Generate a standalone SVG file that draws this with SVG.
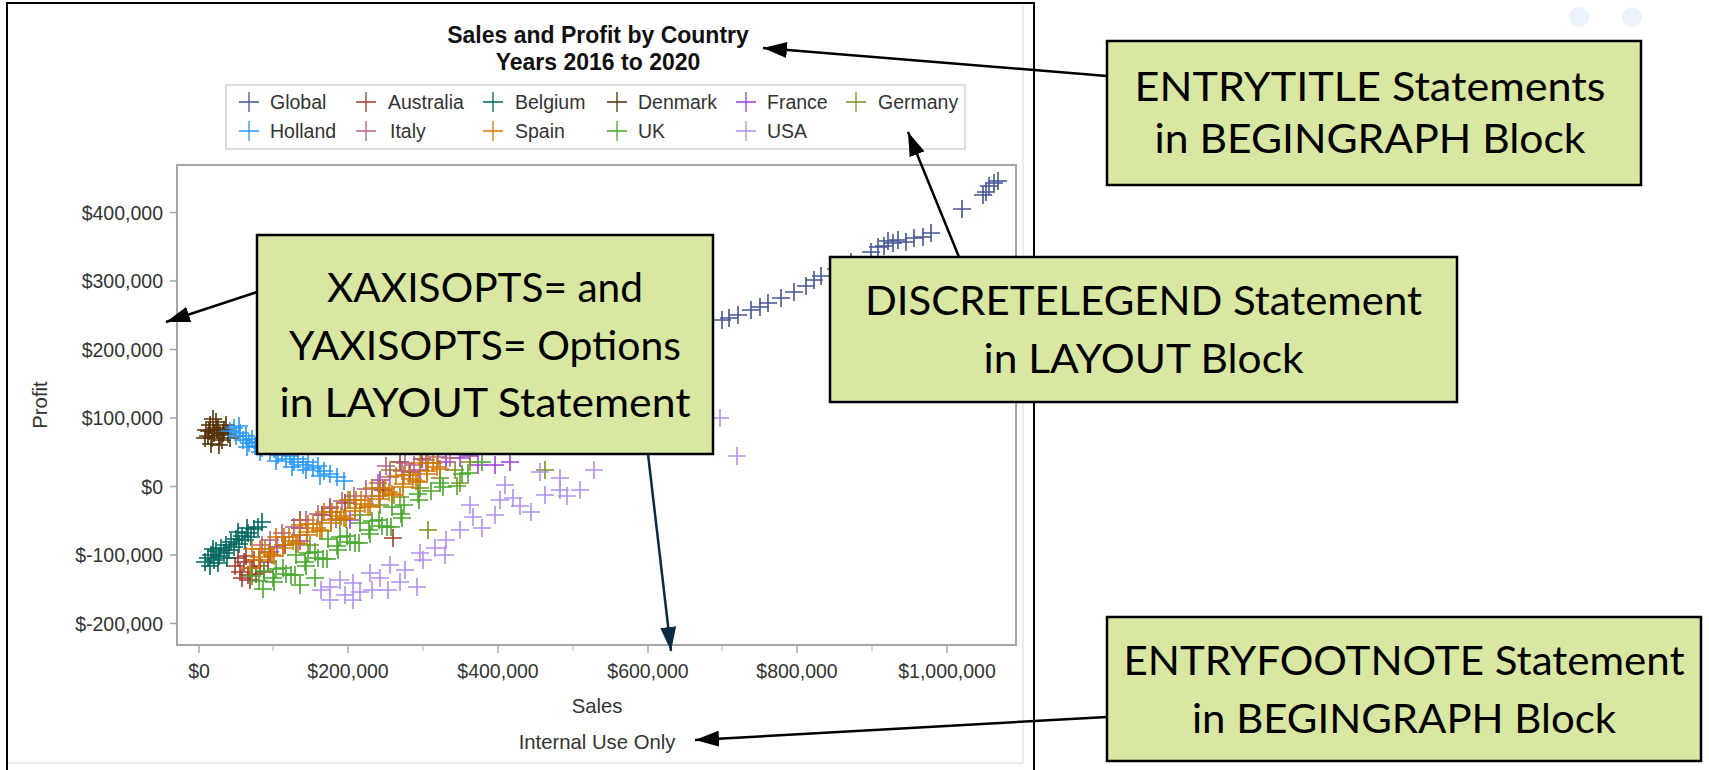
<svg xmlns="http://www.w3.org/2000/svg" width="1709" height="770" viewBox="0 0 1709 770">
  <style>
    .sas{font-family:"Liberation Sans",Arial,sans-serif}
    .title{font-size:23px;font-weight:bold;fill:#111;text-anchor:middle}
    .leg{font-size:19.5px;fill:#333}
    .tick{font-size:19.5px;fill:#333}
    .ytick{text-anchor:end}
    .xtick{text-anchor:middle}
    .axlab{font-size:20.3px;fill:#333;text-anchor:middle}
    .note{font-family:Lato,"Liberation Sans",sans-serif;font-size:41px;fill:#000;text-anchor:middle}
    .box{fill:#D8E7A1;stroke:#000;stroke-width:2.5}
    .conn{stroke:#000;stroke-width:2.5;fill:none;marker-end:url(#arrow)}
    .conn.navy{stroke:#0B2A44;marker-end:url(#arrow-navy)}
    .series{fill:none;stroke:none}
    .lm{fill:none;stroke-width:1.3}
    .s-global{marker-start:url(#m-global);marker-mid:url(#m-global);marker-end:url(#m-global)}
    .s-australia{marker-start:url(#m-australia);marker-mid:url(#m-australia);marker-end:url(#m-australia)}
    .s-belgium{marker-start:url(#m-belgium);marker-mid:url(#m-belgium);marker-end:url(#m-belgium)}
    .s-denmark{marker-start:url(#m-denmark);marker-mid:url(#m-denmark);marker-end:url(#m-denmark)}
    .s-france{marker-start:url(#m-france);marker-mid:url(#m-france);marker-end:url(#m-france)}
    .s-germany{marker-start:url(#m-germany);marker-mid:url(#m-germany);marker-end:url(#m-germany)}
    .s-holland{marker-start:url(#m-holland);marker-mid:url(#m-holland);marker-end:url(#m-holland)}
    .s-italy{marker-start:url(#m-italy);marker-mid:url(#m-italy);marker-end:url(#m-italy)}
    .s-spain{marker-start:url(#m-spain);marker-mid:url(#m-spain);marker-end:url(#m-spain)}
    .s-uk{marker-start:url(#m-uk);marker-mid:url(#m-uk);marker-end:url(#m-uk)}
    .s-usa{marker-start:url(#m-usa);marker-mid:url(#m-usa);marker-end:url(#m-usa)}
  </style>
  <defs>
    <marker id="arrow" viewBox="0 0 24 16" refX="24" refY="8" markerWidth="24" markerHeight="16" markerUnits="userSpaceOnUse" orient="auto">
      <path d="M0 0L24 8L0 16z" fill="#000"/>
    </marker>
    <marker id="arrow-navy" viewBox="0 0 24 16" refX="24" refY="8" markerWidth="24" markerHeight="16" markerUnits="userSpaceOnUse" orient="auto">
      <path d="M0 0L24 8L0 16z" fill="#0B2A44"/>
    </marker>
    <!-- plus-sign point markers, one per country colour -->
    <marker id="m-global" viewBox="0 0 18 18" refX="9" refY="9" markerWidth="18" markerHeight="18" markerUnits="userSpaceOnUse"><path d="M0 9h18M9 0v18" stroke="#445694" stroke-width="1.6"/></marker>
    <marker id="m-australia" viewBox="0 0 18 18" refX="9" refY="9" markerWidth="18" markerHeight="18" markerUnits="userSpaceOnUse"><path d="M0 9h18M9 0v18" stroke="#A23A2E" stroke-width="1.6"/></marker>
    <marker id="m-belgium" viewBox="0 0 18 18" refX="9" refY="9" markerWidth="18" markerHeight="18" markerUnits="userSpaceOnUse"><path d="M0 9h18M9 0v18" stroke="#01665E" stroke-width="1.6"/></marker>
    <marker id="m-denmark" viewBox="0 0 18 18" refX="9" refY="9" markerWidth="18" markerHeight="18" markerUnits="userSpaceOnUse"><path d="M0 9h18M9 0v18" stroke="#543005" stroke-width="1.6"/></marker>
    <marker id="m-france" viewBox="0 0 18 18" refX="9" refY="9" markerWidth="18" markerHeight="18" markerUnits="userSpaceOnUse"><path d="M0 9h18M9 0v18" stroke="#9D3CDB" stroke-width="1.6"/></marker>
    <marker id="m-germany" viewBox="0 0 18 18" refX="9" refY="9" markerWidth="18" markerHeight="18" markerUnits="userSpaceOnUse"><path d="M0 9h18M9 0v18" stroke="#7F8E1F" stroke-width="1.6"/></marker>
    <marker id="m-holland" viewBox="0 0 18 18" refX="9" refY="9" markerWidth="18" markerHeight="18" markerUnits="userSpaceOnUse"><path d="M0 9h18M9 0v18" stroke="#2597FA" stroke-width="1.6"/></marker>
    <marker id="m-italy" viewBox="0 0 18 18" refX="9" refY="9" markerWidth="18" markerHeight="18" markerUnits="userSpaceOnUse"><path d="M0 9h18M9 0v18" stroke="#B26084" stroke-width="1.6"/></marker>
    <marker id="m-spain" viewBox="0 0 18 18" refX="9" refY="9" markerWidth="18" markerHeight="18" markerUnits="userSpaceOnUse"><path d="M0 9h18M9 0v18" stroke="#D17800" stroke-width="1.6"/></marker>
    <marker id="m-uk" viewBox="0 0 18 18" refX="9" refY="9" markerWidth="18" markerHeight="18" markerUnits="userSpaceOnUse"><path d="M0 9h18M9 0v18" stroke="#47A82A" stroke-width="1.6"/></marker>
    <marker id="m-usa" viewBox="0 0 18 18" refX="9" refY="9" markerWidth="18" markerHeight="18" markerUnits="userSpaceOnUse"><path d="M0 9h18M9 0v18" stroke="#B38EF3" stroke-width="1.6"/></marker>
  </defs>

  <rect x="0" y="0" width="1709" height="770" fill="#fff"/>

  <!-- decorative dots, top right -->
  <circle cx="1579" cy="17" r="10" fill="#EAF3FD"/>
  <circle cx="1632" cy="17" r="10" fill="#EAF3FD"/>

  <!-- SAS graph output -->
  <g id="chart" class="sas">
    <path d="M1023 5V763M8 763H1023" stroke="#ececec" stroke-width="2" fill="none"/>
    <rect x="7" y="3" width="1027" height="780" fill="none" stroke="#000" stroke-width="2"/>

    <g id="chart-title">
      <text class="title" x="598" y="43">Sales and Profit by Country</text>
      <text class="title" x="598" y="70">Years 2016 to 2020</text>
    </g>

    <g id="legend">
      <rect x="226" y="85" width="739" height="64" fill="#fff" stroke="#d2d2d2" stroke-width="1.5"/>
      <path class="lm" stroke="#445694" d="M239 102h20M249 92v20"/>
      <text class="leg" x="270" y="109">Global</text>
      <path class="lm" stroke="#A23A2E" d="M356 102h20M366 92v20"/>
      <text class="leg" x="388" y="109">Australia</text>
      <path class="lm" stroke="#01665E" d="M483 102h20M493 92v20"/>
      <text class="leg" x="515" y="109">Belgium</text>
      <path class="lm" stroke="#543005" d="M607 102h20M617 92v20"/>
      <text class="leg" x="638" y="109">Denmark</text>
      <path class="lm" stroke="#9D3CDB" d="M736 102h20M746 92v20"/>
      <text class="leg" x="767" y="109">France</text>
      <path class="lm" stroke="#7F8E1F" d="M846 102h20M856 92v20"/>
      <text class="leg" x="878" y="109">Germany</text>
      <path class="lm" stroke="#2597FA" d="M239 131h20M249 121v20"/>
      <text class="leg" x="270" y="138">Holland</text>
      <path class="lm" stroke="#B26084" d="M356 131h20M366 121v20"/>
      <text class="leg" x="390" y="138">Italy</text>
      <path class="lm" stroke="#D17800" d="M483 131h20M493 121v20"/>
      <text class="leg" x="515" y="138">Spain</text>
      <path class="lm" stroke="#47A82A" d="M607 131h20M617 121v20"/>
      <text class="leg" x="638" y="138">UK</text>
      <path class="lm" stroke="#B38EF3" d="M736 131h20M746 121v20"/>
      <text class="leg" x="767" y="138">USA</text>
    </g>

    <g id="plot">
      <rect x="177" y="165" width="839" height="480" fill="#fff" stroke="#a6a6a6" stroke-width="2"/>

      <!-- scatter points, drawn in group order -->
      <polyline class="series s-global" points="722,320 729,318 738,315 751,310 760,307 768,303 781,298 794,292 806,286 814,280 821,276 836,269 851,262 871,252 878,247 884,246 888,241 893,243 898,240 906,242 914,238 923,237 931,233 962,209 983,195 986,192 989,186 994,183 998,181"/>
      <polyline class="series s-australia" points="235,566 240,572 244,562 248,575 252,568 256,574 238,558 246,556 260,566 264,572 250,580 242,578 254,560 268,562 300,528 322,515 345,503 393,538 383,490 410,472 300,520 330,508 400,462 422,459 270,552 285,545"/>
      <polyline class="series s-belgium" points="205,562 208,558 211,555 214,560 216,551 219,556 221,548 224,553 226,545 229,550 231,542 234,547 236,539 239,544 242,536 245,540 248,533 251,537 254,529 258,527 262,522 210,566 218,563 227,558 238,532 247,528 213,549"/>
      <polyline class="series s-denmark" points="206,430 210,425 214,433 218,428 212,438 208,436 220,435 224,430 216,422 222,440 228,434 211,444 205,438 219,445 226,425 213,419 230,438 217,430 209,431 223,433"/>
      <polyline class="series s-france" points="446,462 460,458 478,465 495,465 277,547 300,541 380,480 420,470 350,520 470,456 510,462"/>
      <polyline class="series s-germany" points="340,520 360,515 380,505 400,497 420,488 440,478 455,470 470,462 545,470 428,530 310,545 390,470 460,483 350,500"/>
      <polyline class="series s-holland" points="230,431 234,428 236,436 240,433 243,440 246,436 249,443 252,439 255,446 258,442 262,448 266,445 270,451 274,449 278,455 282,452 286,459 290,456 294,462 298,459 303,465 308,462 313,468 318,466 324,471 330,474 337,477 344,481 239,426 247,447 260,452 276,461 292,467 306,470 320,476"/>
      <polyline class="series s-italy" points="270,540 282,533 294,527 306,520 318,514 330,507 342,501 354,496 366,489 378,483 390,477 402,471 414,465 426,460 438,457 450,458 300,535 336,519 372,496 262,545 386,466 405,463"/>
      <polyline class="series s-spain" points="252,549 250,568 259,557 259,560 260,549 269,553 265,549 272,555 276,537 274,556 283,545 283,548 284,537 293,541 289,537 296,543 300,525 298,544 307,532 307,535 308,524 317,528 313,524 320,530 324,512 322,531 331,520 331,523 332,512 341,516 337,512 344,518 348,500 346,519 355,508 355,511 356,500 365,504 361,500 368,506 372,488 370,507 379,496 379,499 380,488 389,492 385,488 392,494 396,476 394,495 403,484 403,487 404,475 413,479 409,475 416,481 420,463 418,482 427,471 427,474 428,463 437,467 433,463 440,469"/>
      <polyline class="series s-uk" points="264,571 263,589 273,578 274,582 276,569 286,574 283,568 291,575 296,555 295,575 305,562 306,566 308,553 318,558 315,552 323,559 328,539 327,559 337,546 338,550 340,537 350,542 347,536 355,543 360,523 359,543 369,530 370,534 372,521 382,526 379,520 387,527 392,507 391,527 401,514 402,518 404,505 418,494 419,500 431,491 440,483 443,487 457,486 462,474 468,473 482,462 252,576 259,581 300,585 315,578"/>
      <polyline class="series s-usa" points="321,590 330,587 340,580 353,583 353,600 360,592 370,573 372,590 388,590 400,582 417,587 420,553 423,560 435,548 446,540 460,530 473,517 482,528 495,515 513,498 520,506 531,512 545,495 560,490 567,496 580,490 594,470 560,478 737,456 720,418 330,600 345,595 380,578 405,570 390,565 505,485 540,472 470,505 445,555 500,500"/>
    </g>

    <g id="y-axis">
      <path d="M170 212.5h7M170 281h7M170 349.5h7M170 418h7M170 486.5h7M170 555h7M170 623.5h7" stroke="#a6a6a6" stroke-width="1.5"/>
      <text class="tick ytick" x="163" y="219.5">$400,000</text>
      <text class="tick ytick" x="163" y="288">$300,000</text>
      <text class="tick ytick" x="163" y="356.5">$200,000</text>
      <text class="tick ytick" x="163" y="425">$100,000</text>
      <text class="tick ytick" x="163" y="493.5">$0</text>
      <text class="tick ytick" x="163" y="562">$-100,000</text>
      <text class="tick ytick" x="163" y="630.5">$-200,000</text>
      <text class="axlab" x="47" y="405" transform="rotate(-90 47 405)">Profit</text>
    </g>

    <g id="x-axis">
      <path d="M199 646v7M348 646v7M498 646v7M648 646v7M797 646v7M947 646v7" stroke="#a6a6a6" stroke-width="1.5"/>
      <path d="M273 646v5M423 646v5M573 646v5M722 646v5M872 646v5" stroke="#cfcfcf" stroke-width="1.5"/>
      <text class="tick xtick" x="199" y="678">$0</text>
      <text class="tick xtick" x="348" y="678">$200,000</text>
      <text class="tick xtick" x="498" y="678">$400,000</text>
      <text class="tick xtick" x="648" y="678">$600,000</text>
      <text class="tick xtick" x="797" y="678">$800,000</text>
      <text class="tick xtick" x="947" y="678">$1,000,000</text>
      <text class="axlab" x="597" y="713">Sales</text>
    </g>

    <g id="footnote">
      <text class="axlab" x="597" y="749">Internal Use Only</text>
    </g>
  </g>

  <!-- callout boxes -->
  <g id="entrytitle-note">
    <rect class="box" x="1107" y="41" width="534" height="144"/>
    <text class="note" x="1370" y="101" textLength="471" lengthAdjust="spacingAndGlyphs">ENTRYTITLE Statements</text>
    <text class="note" x="1370" y="153" textLength="431" lengthAdjust="spacingAndGlyphs">in BEGINGRAPH Block</text>
  </g>

  <g id="discretelegend-note">
    <rect class="box" x="830" y="257" width="627" height="145"/>
    <text class="note" x="1143.5" y="315" textLength="557" lengthAdjust="spacingAndGlyphs">DISCRETELEGEND Statement</text>
    <text class="note" x="1143.5" y="373" textLength="320" lengthAdjust="spacingAndGlyphs">in LAYOUT Block</text>
  </g>

  <g id="axisopts-note">
    <rect class="box" x="257" y="235" width="456" height="219"/>
    <text class="note" x="485" y="302" textLength="316" lengthAdjust="spacingAndGlyphs">XAXISOPTS= and</text>
    <text class="note" x="485" y="360" textLength="392" lengthAdjust="spacingAndGlyphs">YAXISOPTS= Options</text>
    <text class="note" x="485" y="417" textLength="411" lengthAdjust="spacingAndGlyphs">in LAYOUT Statement</text>
  </g>

  <g id="entryfootnote-note">
    <rect class="box" x="1107" y="617" width="594" height="144"/>
    <text class="note" x="1404" y="675" textLength="561" lengthAdjust="spacingAndGlyphs">ENTRYFOOTNOTE Statement</text>
    <text class="note" x="1404" y="733" textLength="424" lengthAdjust="spacingAndGlyphs">in BEGINGRAPH Block</text>
  </g>

  <!-- connectors -->
  <g id="connectors">
    <line class="conn" x1="1107" y1="76" x2="763" y2="48"/>
    <line class="conn" x1="959" y1="257" x2="908" y2="132"/>
    <line class="conn" x1="257" y1="292" x2="166" y2="322"/>
    <line class="conn navy" x1="648" y1="454" x2="671" y2="651"/>
    <line class="conn" x1="1107" y1="717" x2="695" y2="740"/>
  </g>
</svg>
